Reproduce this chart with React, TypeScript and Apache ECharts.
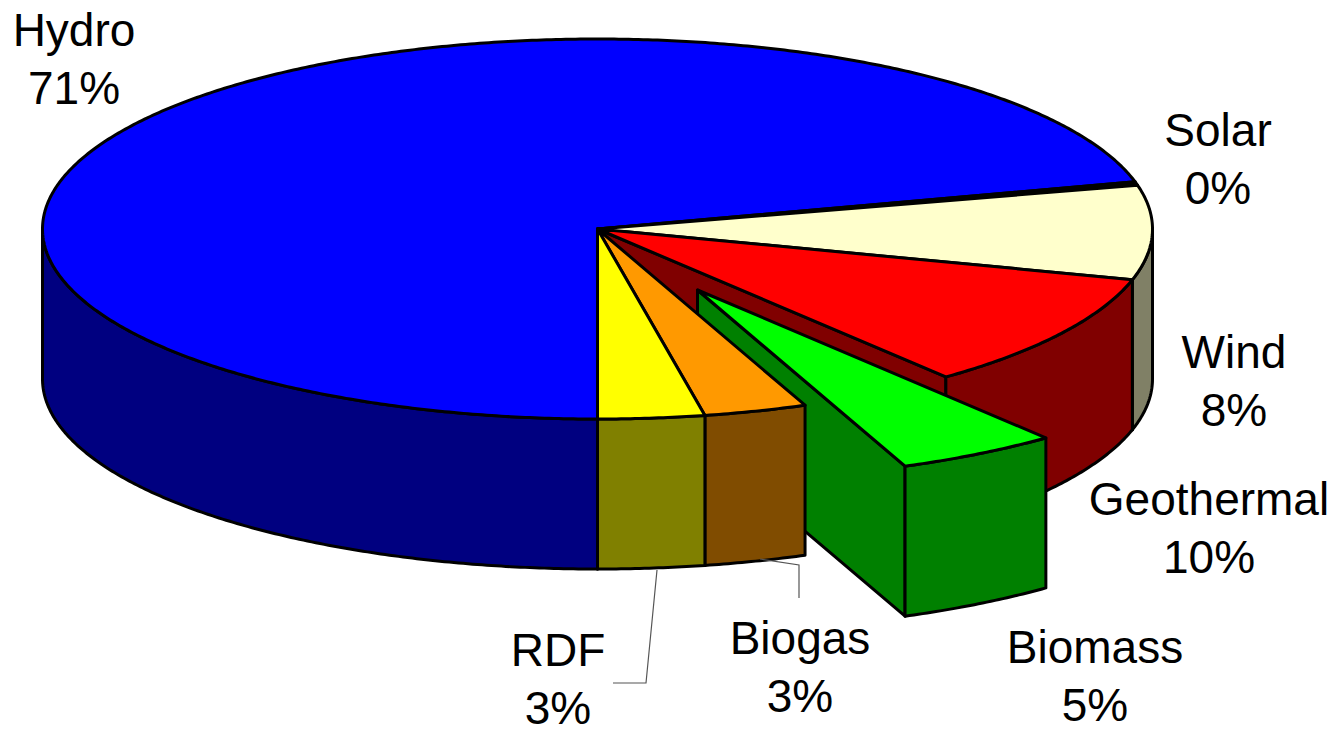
import React, { useEffect, useRef } from "react";
import * as echarts from "echarts";

const names = ["Hydro", "Solar", "Wind", "Geothermal", "Biomass", "Biogas", "RDF"];
const values = [71, 0.3, 8, 9.9, 4.7, 3, 3.1];
const topColors = ["#0000FF", "#000000", "#FFFFCC", "#FF0000", "#00FF00", "#FF9900", "#FFFF00"];
const sideColors = ["#000080", "#000000", "#808066", "#800000", "#008000", "#804C00", "#808000"];
const exploded = [0, 0, 0, 0, 1, 0, 0];

const WIDTH = 1341;
const HEIGHT = 734;
const CX = 597.5;
const CY = 229;
const RX = 555;
const RY = 190;
const DEPTH = 150;
const START_DEG = 180;
const EXPLODE_X = 100;
const EXPLODE_Y = 61;
const LINE_GAP = 29;

const labelPlaces: Record<string, [number, number]> = {
  Hydro: [74, 59],
  Solar: [1218, 159],
  Wind: [1234, 381],
  Geothermal: [1209, 528],
  Biomass: [1095, 676],
  Biogas: [800, 667],
  RDF: [558, 679],
};
const leaderLines = [
  [[657, 570], [646, 683], [613, 683]],
  [[760, 559], [799, 565], [799, 598]],
];

const total = values.reduce((a, b) => a + b, 0);

function pt(deg: number, ox: number, oy: number): number[] {
  const t = (deg * Math.PI) / 180;
  return [CX + ox + RX * Math.sin(t), CY + oy - RY * Math.cos(t)];
}

function arc(d0: number, d1: number, ox: number, oy: number): number[][] {
  const out: number[][] = [];
  const n = Math.max(1, Math.ceil((d1 - d0) / 0.5));
  for (let i = 0; i <= n; i++) out.push(pt(d0 + ((d1 - d0) * i) / n, ox, oy));
  return out;
}

function renderSlice(params: any, api: any) {
  const i = params.dataIndex;
  const before = values.slice(0, i).reduce((a, b) => a + b, 0);
  const d0 = START_DEG + (before / total) * 360;
  const d1 = d0 + (api.value(0) / total) * 360;
  const ox = exploded[i] * EXPLODE_X;
  const oy = exploded[i] * EXPLODE_Y;
  const stroke = { stroke: "#000", lineWidth: 3, lineJoin: "round" };
  const children: any[] = [];
  const side = { ...stroke, fill: sideColors[i] };

  // inner wall along the closing radial edge, visible on the front half only
  const nd1 = ((d1 % 360) + 360) % 360;
  if (nd1 > 90 && nd1 <= 180) {
    const e = pt(d1, ox, oy);
    children.push({
      type: "polygon",
      shape: { points: [[CX + ox, CY + oy], e, [e[0], e[1] + DEPTH], [CX + ox, CY + oy + DEPTH]] },
      style: side,
    });
  }
  // outer wall, front half of the rim only
  for (const shift of [0, 360]) {
    const a = Math.max(d0, 90 + shift);
    const b = Math.min(d1, 270 + shift);
    if (b > a) {
      const upper = arc(a, b, ox, oy);
      const lower = upper.map((p) => [p[0], p[1] + DEPTH]).reverse();
      children.push({ type: "polygon", shape: { points: [...upper, ...lower] }, style: side });
    }
  }
  // top face
  children.push({
    type: "polygon",
    shape: { points: [[CX + ox, CY + oy], ...arc(d0, d1, ox, oy)] },
    style: { ...stroke, fill: topColors[i] },
  });
  return { type: "group", children };
}

function labelLine(text: string, x: number, y: number) {
  return {
    type: "text",
    z: 10,
    silent: true,
    x,
    y,
    style: {
      text,
      fill: "#000",
      font: '46px "Liberation Sans", Arial, sans-serif',
      lineHeight: 38,
      align: "center",
      verticalAlign: "middle",
    },
  };
}

export default function App() {
  const ref = useRef<HTMLDivElement>(null);
  useEffect(() => {
    const chart = echarts.init(ref.current!, null, { renderer: "svg" });
    chart.setOption({
      animation: false,
      backgroundColor: "#ffffff",
      series: [
        {
          type: "custom",
          coordinateSystem: "none",
          silent: true,
          renderItem: renderSlice,
          data: values.map((v, i) => ({ name: names[i], value: [v] })),
        },
      ],
      graphic: [
        ...leaderLines.map((points) => ({
          type: "polyline",
          z: 10,
          silent: true,
          shape: { points },
          style: { stroke: "#555555", lineWidth: 1.2, fill: "none" },
        })),
        ...names.flatMap((name, i) => {
          const [x, y] = labelPlaces[name];
          return [
            labelLine(name, x, y - LINE_GAP),
            labelLine(`${Math.round(values[i])}%`, x, y + LINE_GAP),
          ];
        }),
      ],
    });
    return () => chart.dispose();
  }, []);
  return (
    <div
      ref={ref}
      style={{ position: "fixed", left: 0, top: 0, width: WIDTH, height: HEIGHT, background: "#fff" }}
    />
  );
}
